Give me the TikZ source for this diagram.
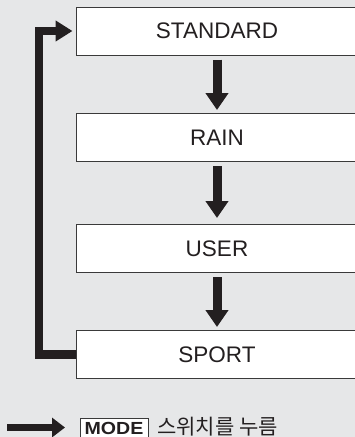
\documentclass[tikz,border=0pt]{standalone}
\usepackage{fontspec}
\setmainfont{Liberation Sans}
\newfontfamily\cjk{Noto Sans CJK KR}
\newfontfamily\modefont[FakeStretch=1.12]{Liberation Sans Bold}
\usetikzlibrary{arrows.meta}
\definecolor{bg}{HTML}{E6E7E8}
\definecolor{ink}{HTML}{231F20}
\definecolor{frame}{HTML}{3A3A3A}
\begin{document}
\begin{tikzpicture}[x=1pt,y=-1pt,
  modebox/.style={draw=frame,line width=1pt,fill=white,minimum width=282pt,minimum height=48pt,inner sep=0pt,font=\fontsize{22.5}{22.5}\selectfont,text=ink},
  flow/.style={draw=ink,line width=9pt,-{Triangle[length=17pt,width=22pt]}},
  back/.style={draw=ink,line width=8.5pt,-{Triangle[length=17pt,width=20pt]}}]
\fill[bg] (0,0) rectangle (355,437);
\useasboundingbox (0,0) rectangle (355,437);
\node[modebox] (std) at (217,31) {STANDARD};
\node[modebox] (rain) at (217,137.5) {RAIN};
\node[modebox] (user) at (217,248.5) {USER};
\node[modebox] (sport) at (217,354.5) {SPORT};
\draw[flow,shorten <=4pt,shorten >=3pt] (std.south) -- (rain.north);
\draw[flow,shorten <=4pt,shorten >=6pt] (rain.south) -- (user.north);
\draw[flow,shorten <=4pt,shorten >=3pt] (user.south) -- (sport.north);
\coordinate (cb) at (39,354.5);
\coordinate (ct) at (39,31);
\draw[back,shorten >=3pt] (sport.west) -- (cb) -- (ct) -- (std.west);
\coordinate (la) at (7,427.5);
\coordinate (lb) at (65,427.5);
\draw[draw=ink,line width=7.5pt,-{Triangle[length=13pt,width=19pt]}] (la) -- (lb);
\node[draw=frame,line width=1pt,fill=white,minimum width=68pt,minimum height=19pt,inner sep=0pt,font=\modefont\fontsize{17.5}{17.5}\selectfont,text=ink] (mode) at (114,428) {MODE};
\node[anchor=west,font=\cjk\fontsize{21}{21}\selectfont,text=ink,inner sep=0pt] (txt) at (157,427) {스위치를 누름};
\end{tikzpicture}
\end{document}
